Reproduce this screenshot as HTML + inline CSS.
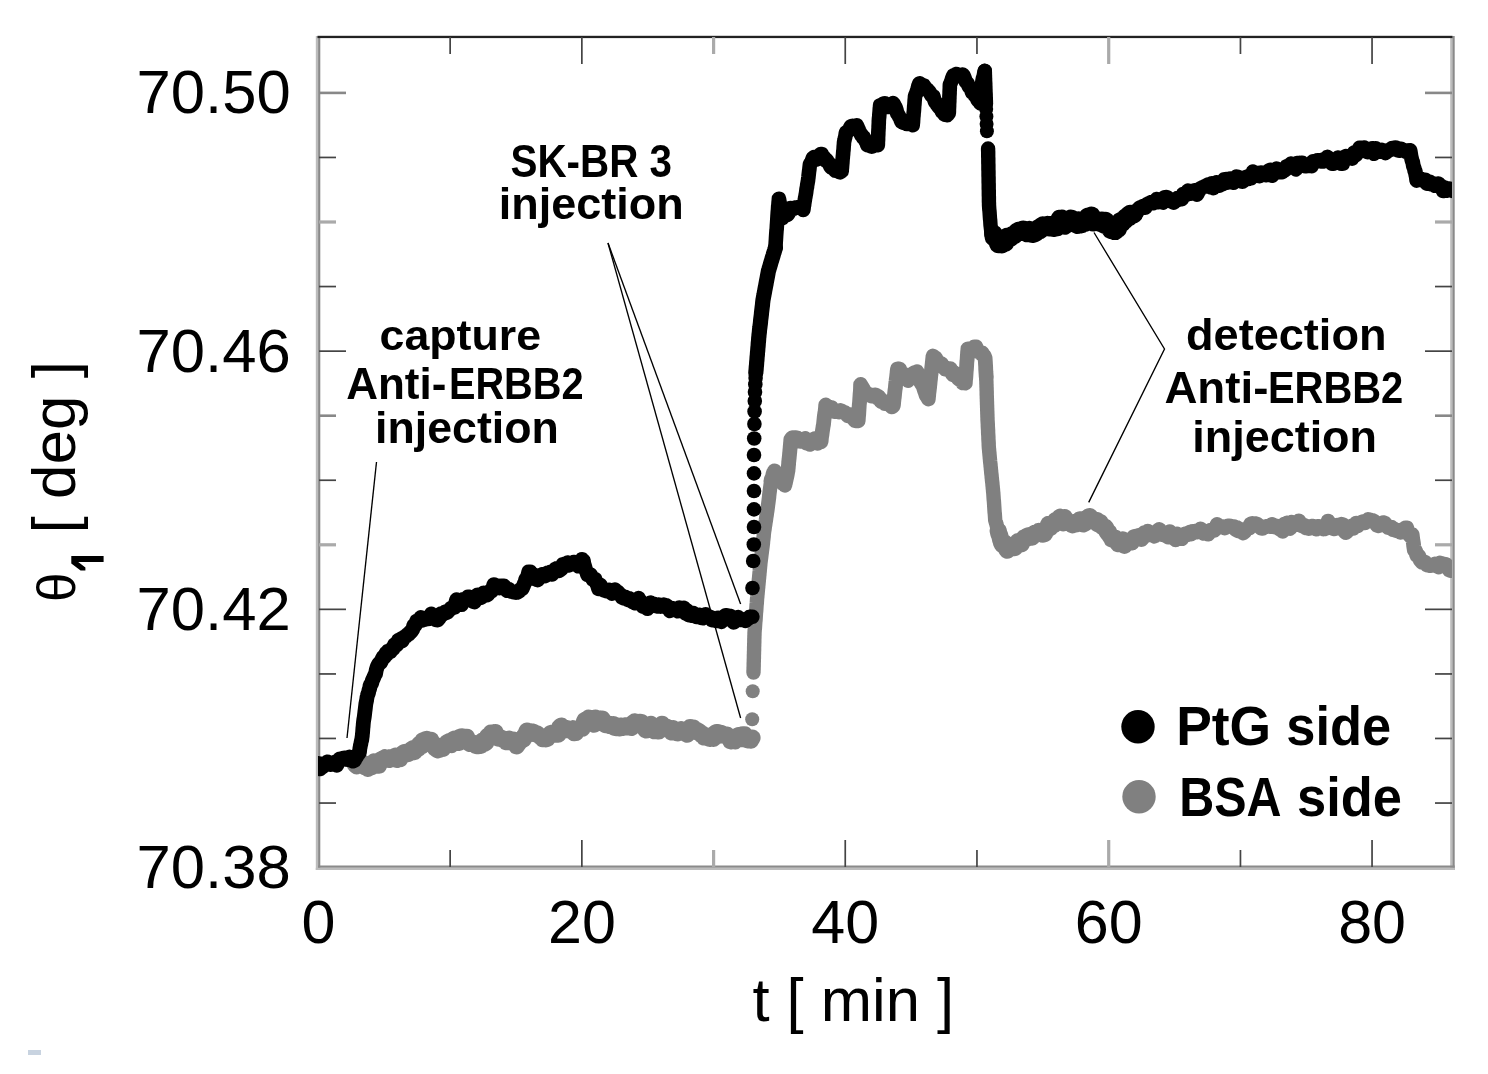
<!DOCTYPE html>
<html><head><meta charset="utf-8"><title>SPR sensorgram</title>
<style>
html,body{margin:0;padding:0;background:#fff;}
body{width:1488px;height:1074px;overflow:hidden;}
svg{display:block;filter:blur(0.5px);}
text{font-family:"Liberation Sans",sans-serif;fill:#000;}
.b{font-weight:bold;}
</style></head><body>
<svg width="1488" height="1074" viewBox="0 0 1488 1074">
<rect x="0" y="0" width="1488" height="1074" fill="#ffffff"/>

<rect x="28" y="1050" width="13" height="5" fill="#c8d3e0"/>
<g id="frame">
<rect x="315.8" y="36" width="2.3" height="834" fill="#bcbcbc"/>
<rect x="318.1" y="36" width="2.2" height="832" fill="#8a8a8a"/>
<rect x="1450.2" y="36" width="2.2" height="832" fill="#bcbcbc"/>
<rect x="1452.4" y="36" width="2.3" height="834" fill="#8a8a8a"/>
<rect x="318.1" y="865.5" width="1136.6" height="2.3" fill="#8a8a8a"/>
<rect x="315.8" y="867.8" width="1138.9" height="2.2" fill="#bcbcbc"/>
<rect x="317.5" y="35.8" width="1135" height="2.3" fill="#222"/>
</g>
<g id="ticks">
<rect x="319" y="802.2" width="17" height="1.7" fill="#444"/>
<rect x="1435.0" y="802.2" width="17" height="1.7" fill="#444"/>
<rect x="319" y="737.6" width="17" height="1.7" fill="#444"/>
<rect x="1435.0" y="737.6" width="17" height="1.7" fill="#444"/>
<rect x="319" y="673.1" width="17" height="1.7" fill="#444"/>
<rect x="1435.0" y="673.1" width="17" height="1.7" fill="#444"/>
<rect x="319" y="608.5" width="27" height="1.7" fill="#444"/>
<rect x="1425.0" y="608.5" width="27" height="1.7" fill="#444"/>
<rect x="319" y="543.2" width="17" height="3.2" fill="#aaa"/>
<rect x="1435.0" y="543.2" width="17" height="3.2" fill="#aaa"/>
<rect x="319" y="479.4" width="17" height="1.7" fill="#444"/>
<rect x="1435.0" y="479.4" width="17" height="1.7" fill="#444"/>
<rect x="319" y="414.4" width="17" height="2.6" fill="#888"/>
<rect x="1435.0" y="414.4" width="17" height="2.6" fill="#888"/>
<rect x="319" y="350.3" width="27" height="1.7" fill="#444"/>
<rect x="1425.0" y="350.3" width="27" height="1.7" fill="#444"/>
<rect x="319" y="285.7" width="17" height="1.7" fill="#444"/>
<rect x="1435.0" y="285.7" width="17" height="1.7" fill="#444"/>
<rect x="319" y="220.4" width="17" height="3.2" fill="#aaa"/>
<rect x="1435.0" y="220.4" width="17" height="3.2" fill="#aaa"/>
<rect x="319" y="156.6" width="17" height="1.7" fill="#444"/>
<rect x="1435.0" y="156.6" width="17" height="1.7" fill="#444"/>
<rect x="319" y="91.6" width="27" height="2.6" fill="#888"/>
<rect x="1425.0" y="91.6" width="27" height="2.6" fill="#888"/>
<rect x="449.3" y="850.0" width="1.7" height="17" fill="#444"/>
<rect x="449.3" y="37.0" width="1.7" height="17" fill="#444"/>
<rect x="581.0" y="840.0" width="1.7" height="27" fill="#444"/>
<rect x="581.0" y="37.0" width="1.7" height="27" fill="#444"/>
<rect x="712.0" y="850.0" width="3.2" height="17" fill="#aaa"/>
<rect x="712.0" y="37.0" width="3.2" height="17" fill="#aaa"/>
<rect x="844.4" y="840.0" width="1.7" height="27" fill="#444"/>
<rect x="844.4" y="37.0" width="1.7" height="27" fill="#444"/>
<rect x="976.1" y="850.0" width="1.7" height="17" fill="#444"/>
<rect x="976.1" y="37.0" width="1.7" height="17" fill="#444"/>
<rect x="1107.1" y="840.0" width="3.2" height="27" fill="#aaa"/>
<rect x="1107.1" y="37.0" width="3.2" height="27" fill="#aaa"/>
<rect x="1239.6" y="850.0" width="1.7" height="17" fill="#444"/>
<rect x="1239.6" y="37.0" width="1.7" height="17" fill="#444"/>
<rect x="1371.2" y="840.0" width="1.7" height="27" fill="#444"/>
<rect x="1371.2" y="37.0" width="1.7" height="27" fill="#444"/>
</g>
<clipPath id="cp"><rect x="318" y="37" width="1134.1" height="830"/></clipPath>
<g id="callouts" stroke="#000" stroke-width="1.35" fill="none">
<line x1="376.5" y1="462" x2="347" y2="738"/>
<line x1="608" y1="243" x2="740.6" y2="718"/>
<line x1="608" y1="243" x2="740.6" y2="604"/>
<polyline points="1094,232.5 1164.5,349 1088.7,502.4"/>
</g>
<g id="grey" clip-path="url(#cp)">
<polyline points="355.0,764.4 356.7,765.9 358.3,765.0 360.0,764.4 361.7,762.6 363.3,763.3 365.0,766.8 366.5,767.0 368.0,768.5 369.5,767.4 371.0,767.1 372.5,766.4 374.0,761.7 375.6,764.6 377.2,765.2 378.8,765.3 380.4,760.2 382.0,759.2 383.4,758.5 384.8,757.7 386.2,759.1 387.6,758.9 389.0,759.7 390.6,757.4 392.1,758.0 393.7,758.3 395.3,755.9 396.8,759.6 398.4,758.8 400.0,758.8 401.5,755.7 403.1,753.0 404.6,752.3 406.0,752.2 407.4,753.7 408.9,753.4 410.4,751.5 411.8,749.1 413.2,748.5 414.7,751.7 415.9,748.7 417.0,748.5 418.2,748.3 419.4,744.2 420.5,744.3 421.7,746.1 422.9,740.7 424.0,740.3 425.2,739.7 426.7,739.2 428.1,742.1 429.6,742.7 431.0,740.2 432.5,744.2 433.9,746.2 435.4,748.3 436.9,749.5 438.3,750.0 439.8,749.3 441.2,746.0 442.7,748.7 444.2,746.5 445.7,745.3 447.1,742.6 448.6,741.9 450.1,741.2 451.6,744.7 453.1,739.7 454.6,738.9 456.0,739.2 457.5,742.6 459.0,742.5 460.5,737.1 462.1,736.6 463.6,737.2 465.2,737.2 466.7,737.1 468.3,740.8 469.8,743.7 471.4,743.1 472.9,743.1 474.5,743.6 476.0,745.6 477.6,745.8 479.1,745.6 480.7,745.5 482.2,740.9 483.5,743.2 484.8,743.4 486.1,742.3 487.4,736.4 488.6,735.4 489.9,737.3 491.2,733.0 492.5,733.0 493.8,735.2 495.4,732.4 496.9,737.6 498.5,738.3 500.0,737.4 501.6,738.2 503.1,739.6 504.7,739.4 506.2,741.9 507.8,739.4 509.2,738.9 510.7,742.1 512.1,741.8 513.6,740.0 515.0,743.2 516.5,746.0 517.9,744.2 519.4,742.1 520.4,741.2 521.3,740.1 522.3,738.6 523.2,739.6 524.2,736.1 525.1,736.8 526.1,733.0 527.0,730.9 528.0,731.2 528.9,731.5 529.9,731.5 531.3,731.7 532.7,731.9 534.2,732.4 535.6,733.9 537.0,733.6 538.4,734.8 539.9,736.5 541.3,736.6 542.7,738.8 544.2,738.5 545.8,739.0 547.4,738.5 548.9,735.5 550.5,733.6 552.0,733.0 553.5,734.6 555.1,732.3 556.6,732.5 558.2,734.4 559.8,727.1 561.3,725.9 562.9,727.7 564.5,729.4 566.1,729.9 567.8,728.6 569.4,730.4 571.0,730.4 572.6,728.5 574.2,732.8 575.8,732.7 577.5,729.6 579.1,728.9 580.7,728.2 582.3,728.4 582.8,725.6 583.3,724.1 583.8,723.9 584.3,721.4 584.8,720.4 585.3,720.0 585.8,720.5 587.2,722.1 588.5,718.0 589.9,718.3 591.3,718.8 592.6,721.4 594.0,724.4 595.6,717.9 597.2,721.8 598.8,718.6 600.5,722.0 602.1,718.8 603.7,721.0 605.3,724.7 606.9,723.7 608.5,724.0 610.2,725.7 611.8,725.1 613.4,724.4 615.0,727.7 616.6,727.8 618.3,726.0 619.9,728.1 621.5,725.9 623.2,727.5 624.8,725.7 626.4,725.7 628.1,727.1 629.7,726.8 631.4,727.7 633.0,723.1 634.6,721.7 636.3,724.5 637.9,722.9 639.5,722.1 641.2,722.3 642.8,726.1 644.4,728.0 646.0,730.2 647.6,726.8 649.2,726.8 650.8,724.2 652.4,727.3 654.0,730.8 655.6,727.2 657.2,731.0 658.7,731.2 660.3,729.5 661.9,724.1 663.5,729.1 665.1,728.4 666.7,726.9 668.3,728.5 669.9,729.4 671.5,732.2 673.1,728.4 674.7,731.3 676.2,732.7 677.8,733.0 679.3,732.4 680.9,729.5 682.4,732.2 684.0,731.7 685.5,731.5 687.1,734.4 688.6,732.4 690.2,727.3 691.7,727.9 693.3,727.8 694.8,730.3 696.4,731.9 697.9,730.8 699.5,731.8 701.0,734.4 702.6,734.2 704.1,737.2 705.7,735.7 707.2,737.6 708.8,738.2 710.3,738.5 711.9,737.2 713.4,738.6 715.0,733.1 716.5,732.3 718.1,732.6 719.6,735.4 721.2,733.1 722.7,734.8 724.3,735.3 725.8,736.0 727.4,735.1 728.9,736.6 730.5,741.0 732.0,739.5 733.6,739.8 735.1,741.1 736.7,739.1 738.2,735.5 739.8,735.2 741.3,738.9 742.9,734.6 744.5,734.6 746.0,738.4 747.5,740.0 749.1,739.0 750.7,740.4 752.2,737.8" fill="none" stroke="#808080" stroke-width="16.8" stroke-linecap="round" stroke-linejoin="round"/>
<circle cx="752.2" cy="719.2" r="7" fill="#808080"/><circle cx="752.7" cy="691.3" r="7" fill="#808080"/>
<polyline points="753.5,672.6 753.5,671.0 753.6,669.4 753.6,667.8 753.7,666.3 753.7,664.7 753.7,663.1 753.8,661.5 753.8,659.9 753.9,658.3 753.9,656.7 753.9,655.2 754.0,653.6 754.0,652.0 754.1,650.4 754.1,648.8 754.1,647.2 754.2,645.7 754.2,644.0 754.3,642.5 754.3,640.9 754.3,639.3 754.4,637.8 754.4,636.2 754.5,634.6 754.5,633.0 754.6,631.5 754.7,629.9 754.9,628.3 755.0,626.7 755.1,625.1 755.2,623.6 755.3,622.0 755.5,620.4 755.6,618.9 755.7,617.3 755.8,615.7 755.9,614.2 756.0,612.6 756.2,611.0 756.3,609.5 756.4,607.9 756.5,606.3 756.6,604.8 756.8,603.1 756.9,601.6 757.0,600.0 757.1,598.4 757.3,596.8 757.4,595.2 757.6,593.6 757.7,592.0 757.9,590.4 758.0,588.8 758.2,587.2 758.3,585.6 758.5,584.1 758.6,582.5 758.8,580.9 758.9,579.2 759.1,577.7 759.2,576.1 759.4,574.5 759.5,572.9 759.7,571.3 759.8,569.7 760.0,568.0 760.1,566.5 760.3,564.9 760.4,563.3 760.6,561.8 760.8,560.2 761.0,558.6 761.2,557.0 761.4,555.4 761.6,553.9 761.8,552.3 762.0,550.6 762.2,549.2 762.4,547.6 762.6,546.0 762.8,544.3 763.0,542.8 763.1,541.1 763.3,539.5 763.5,537.8 763.7,536.1 763.8,534.4 764.0,532.6 764.2,531.1 764.5,529.5 764.7,528.0 764.9,526.4 765.2,524.9 765.4,523.4 765.6,521.9 765.9,520.3 766.1,518.8 766.3,517.2 766.6,515.7 766.8,514.1 767.0,512.5 767.3,510.9 767.5,509.4 767.7,507.8 767.9,506.3 768.1,504.7 768.3,503.2 768.5,501.6 768.7,500.0 768.9,498.5 769.1,497.0 769.2,495.5 769.4,493.9 769.6,492.4 769.8,490.8 770.0,489.2 770.2,487.6 770.4,486.1 770.6,484.6 770.8,483.0 771.0,481.5" fill="none" stroke="#808080" stroke-width="14.4" stroke-linecap="round" stroke-linejoin="round"/>
<polyline points="771.0,480.4 771.5,478.9 772.0,478.5 772.5,476.6 773.0,474.2 773.5,472.6 774.0,471.8 774.5,470.8 775.4,472.2 776.4,475.0 777.3,476.3 778.3,476.8 779.2,478.3 780.2,480.3 781.1,481.6 782.1,482.9 783.0,482.5 784.0,483.6 784.9,485.3 785.2,483.5 785.5,482.6 785.8,481.1 786.1,479.8 786.5,477.8 786.8,476.8 787.1,475.3 787.4,473.7 787.7,471.9 788.0,470.5 788.1,468.9 788.3,467.4 788.4,465.8 788.6,464.1 788.7,462.1 788.9,460.6 789.0,459.2 789.2,458.0 789.3,456.5 789.5,454.7 789.6,453.3 789.8,451.8 789.9,450.1 790.1,448.4 790.2,446.7 790.4,445.4 790.5,443.4 790.7,441.7 790.8,439.5 792.4,437.6 794.0,438.0 795.6,437.7 797.2,437.8 798.7,439.7 800.3,441.4 801.9,441.2 803.5,440.8 805.1,438.4 806.7,443.1 808.3,443.3 809.9,444.4 811.5,441.6 813.1,441.3 814.6,438.7 816.2,441.3 817.8,443.3 819.4,439.2 821.0,441.7 821.2,440.5 821.4,438.2 821.6,436.6 821.9,435.0 822.1,433.4 822.3,431.8 822.5,430.4 822.7,429.1 822.9,427.8 823.1,426.4 823.4,425.1 823.6,423.5 823.8,421.3 824.0,419.5 824.2,417.6 824.4,415.9 824.6,414.5 824.8,413.1 825.1,411.8 825.3,409.6 825.5,408.0 825.7,405.0 827.2,406.2 828.7,406.9 830.1,408.1 831.6,407.8 833.1,410.4 834.6,411.6 836.0,411.7 837.5,411.1 839.0,411.9 840.5,410.6 842.0,411.2 843.4,412.2 844.9,412.5 846.4,414.1 847.9,415.8 849.3,414.4 850.8,415.9 852.3,416.8 853.8,419.0 855.2,420.7 856.7,420.9 858.2,420.8 858.3,419.2 858.4,417.7 858.5,416.3 858.7,414.7 858.8,412.8 858.9,410.9 859.0,409.3 859.1,407.7 859.2,406.0 859.3,404.5 859.5,402.9 859.6,401.4 859.7,400.0 859.8,398.3 859.9,397.1 860.0,395.3 860.1,393.9 860.3,392.1 860.4,390.7 860.5,388.2 860.6,384.5 862.0,386.8 863.3,389.0 864.7,392.0 866.0,392.8 867.4,393.6 868.8,394.4 870.1,395.2 871.5,396.0 872.8,395.3 874.2,396.4 875.5,394.8 876.9,397.9 878.3,396.4 879.6,398.0 881.0,401.5 882.3,401.2 883.7,401.3 885.1,403.6 886.4,403.4 887.8,402.3 889.1,403.7 890.5,405.4 891.8,406.9 893.2,405.9 893.4,405.0 893.6,403.4 893.7,401.8 893.9,400.1 894.1,398.2 894.3,397.1 894.5,395.1 894.6,393.8 894.8,391.9 895.0,390.1 895.2,388.9 895.4,387.8 895.5,386.0 895.7,384.0 895.9,382.8 896.1,381.1 896.2,379.6 896.4,378.4 896.6,376.9 896.8,375.0 897.0,373.7 897.1,372.1 897.3,370.6 897.5,368.8 898.5,369.8 899.6,369.0 900.6,373.3 901.7,375.5 902.8,374.5 903.8,374.0 904.9,375.2 905.9,378.2 907.0,379.0 908.0,380.5 909.1,379.1 910.2,378.1 911.4,375.7 912.5,375.3 913.6,372.9 914.8,372.5 915.9,372.3 917.0,371.7 917.6,373.0 918.1,373.8 918.7,375.7 919.2,377.0 919.8,379.9 920.3,381.6 920.9,382.5 921.4,383.4 922.0,384.3 922.7,385.3 923.4,387.0 924.1,389.2 924.8,391.3 925.5,393.2 926.2,395.4 926.9,396.1 927.6,397.3 928.3,399.0 928.5,396.8 928.7,395.1 928.8,393.6 929.0,392.1 929.2,390.6 929.4,388.8 929.6,387.3 929.7,385.7 929.9,384.3 930.1,381.9 930.3,380.2 930.5,378.8 930.6,377.0 930.8,375.3 931.0,374.1 931.2,372.4 931.4,371.1 931.6,369.7 931.7,368.1 931.9,366.5 932.1,364.7 932.3,362.6 932.5,361.1 932.6,359.8 932.8,358.0 933.0,356.0 934.2,358.3 935.5,357.7 936.7,360.1 938.0,363.0 939.2,362.5 940.5,363.4 941.7,363.9 942.9,367.1 944.2,367.6 945.4,369.2 946.7,368.2 947.9,369.1 949.1,370.0 950.4,368.7 951.6,372.8 952.9,374.8 954.1,372.5 955.4,375.4 956.6,376.1 957.8,377.9 959.1,379.2 960.3,377.6 961.6,379.1 962.8,382.9 964.1,382.4 965.3,383.2 965.4,381.5 965.5,379.9 965.7,378.6 965.8,377.6 965.9,376.0 966.0,374.3 966.1,373.0 966.2,371.2 966.4,369.4 966.5,368.0 966.6,366.5 966.7,364.6 966.8,362.7 966.9,361.4 967.1,360.0 967.2,358.1 967.3,356.6 967.4,355.0 967.5,353.7 967.6,352.1 967.8,350.6 967.9,348.9 968.0,349.0 969.6,350.4 971.2,348.5 972.8,349.4 974.4,346.9 976.0,347.0 977.0,349.2 978.0,351.5 979.0,351.6 980.0,352.3 981.1,353.7 982.1,352.9 983.1,354.9 984.1,355.7 985.1,358.1 985.2,359.4 985.3,360.9 985.4,362.5 985.5,364.3 985.6,365.7 985.7,367.6 985.7,369.0 985.8,370.4 985.9,372.2 986.0,373.3 986.1,374.9 986.2,376.8" fill="none" stroke="#808080" stroke-width="14.8" stroke-linecap="round" stroke-linejoin="round"/>
<polyline points="986.2,376.8 986.2,378.5 986.3,380.1 986.4,381.7 986.4,383.3 986.5,385.0 986.5,386.6 986.6,388.2 986.6,389.9 986.7,391.5 986.7,393.1 986.7,394.7 986.8,396.2 986.8,397.7 986.9,399.3 986.9,400.8 987.0,402.4 987.0,404.0 987.1,405.6 987.1,407.1 987.2,408.7 987.2,410.2 987.3,411.8 987.3,413.3 987.4,414.8 987.4,416.4 987.5,417.9 987.5,419.5 987.6,421.1 987.7,422.7 987.8,424.4 987.8,425.9 987.9,427.5 988.0,429.1 988.1,430.6 988.1,432.2 988.2,433.8 988.3,435.4 988.4,437.0 988.4,438.6 988.5,440.2 988.6,441.8 988.7,443.3 988.7,444.9 988.8,446.5 988.9,448.1 989.1,449.8 989.2,451.5 989.4,453.0 989.5,454.7 989.7,456.4 989.8,457.9 990.0,459.7 990.1,461.3 990.3,463.0 990.5,464.5 990.6,466.1 990.8,467.6 990.9,469.2 991.1,470.8 991.2,472.4 991.4,474.0 991.6,475.6 991.7,477.2 991.9,478.7 992.0,480.3 992.2,481.8 992.4,483.4 992.5,485.1 992.7,486.7 992.8,488.3 993.0,489.8 993.1,491.5 993.3,493.0 993.4,494.6 993.5,496.2 993.6,497.8 993.7,499.4 993.9,501.0 994.0,502.5 994.1,504.1 994.2,505.7 994.3,507.3 994.4,508.9 994.5,510.5 994.6,512.1 994.8,513.7 994.9,515.2 995.0,516.8 995.1,518.4 995.2,520.0 995.6,521.6 996.1,523.0 996.5,524.7 996.9,526.2 997.3,527.7 997.8,529.3 998.2,531.0" fill="none" stroke="#808080" stroke-width="14.4" stroke-linecap="round" stroke-linejoin="round"/>
<polyline points="998.2,530.7 998.7,533.0 999.1,534.2 999.6,535.1 1000.1,537.1 1000.6,539.5 1001.0,540.5 1001.5,542.6 1002.6,544.9 1003.8,545.3 1004.9,543.2 1006.1,548.2 1007.2,550.2 1008.8,545.8 1010.3,545.5 1011.9,546.1 1013.4,547.6 1015.0,547.4 1016.5,544.9 1018.1,541.5 1019.6,541.9 1021.2,544.0 1022.8,540.1 1024.3,537.9 1025.8,538.6 1027.4,536.1 1029.0,535.6 1030.5,535.8 1031.9,537.1 1033.3,535.1 1034.7,533.3 1036.1,532.9 1037.5,533.0 1038.9,531.4 1040.3,531.6 1041.7,532.9 1043.1,534.1 1044.5,533.5 1045.9,530.5 1047.3,528.2 1048.7,524.3 1050.1,527.6 1051.5,524.8 1052.8,524.2 1054.2,524.5 1055.6,520.6 1057.0,521.6 1058.4,520.7 1060.0,517.2 1061.5,519.2 1063.1,522.8 1064.6,517.6 1066.2,521.0 1067.7,521.5 1069.2,522.4 1070.8,522.8 1072.3,524.8 1073.9,522.7 1075.5,524.0 1077.0,521.7 1078.6,522.9 1080.1,519.9 1081.7,519.8 1083.2,523.9 1084.8,523.1 1086.3,521.2 1087.9,517.7 1089.5,516.5 1091.0,518.1 1092.6,520.6 1094.1,520.7 1095.7,520.4 1096.9,520.7 1098.0,523.8 1099.2,523.0 1100.3,522.9 1101.5,525.8 1102.7,526.5 1103.8,526.8 1105.0,527.2 1105.9,528.5 1106.8,531.0 1107.6,532.7 1108.5,532.0 1109.4,534.4 1110.2,536.1 1111.1,535.9 1112.0,539.1 1113.5,538.6 1115.1,538.3 1116.6,541.0 1118.2,543.7 1119.7,540.9 1121.3,542.1 1122.8,539.9 1124.4,545.3 1125.9,542.0" fill="none" stroke="#808080" stroke-width="17.2" stroke-linecap="round" stroke-linejoin="round"/>
<polyline points="1125.9,541.0 1127.5,543.4 1129.0,540.5 1130.6,541.8 1132.1,543.1 1133.7,536.8 1135.2,536.3 1136.8,537.8 1138.3,537.1 1139.8,535.2 1141.4,539.6 1143.0,537.8 1144.5,532.6 1146.1,535.4 1147.8,531.1 1149.4,534.9 1151.0,533.1 1152.7,533.7 1154.3,536.3 1155.9,535.1 1157.5,531.0 1159.2,529.4 1160.8,532.6 1162.3,534.7 1163.8,532.6 1165.2,535.3 1166.7,536.2 1168.2,537.2 1169.7,531.7 1171.2,533.0 1172.7,536.6 1174.1,538.3 1175.6,539.8 1177.1,534.0 1178.7,535.1 1180.2,536.2 1181.8,538.7 1183.3,535.7 1184.9,533.9 1186.4,533.4 1188.0,534.6 1189.5,532.2 1191.1,534.1 1192.7,531.3 1194.2,532.2 1195.8,531.0 1197.3,531.9 1198.9,530.6 1200.5,528.8 1202.0,532.5 1203.6,533.3 1205.1,531.9 1206.7,532.9 1208.2,534.1 1209.7,530.5 1211.2,530.0 1212.7,530.6 1214.1,530.6 1215.6,528.6 1217.1,524.4 1218.6,527.1 1220.1,527.0 1221.6,527.1 1223.2,526.7 1224.7,527.9 1226.3,527.2 1227.8,525.8 1229.4,525.8 1230.9,526.3 1232.5,526.7 1234.0,526.6 1235.6,529.6 1237.1,527.6 1238.7,531.0 1240.2,529.5 1241.7,530.6 1243.2,533.0 1244.7,531.7 1246.2,528.7 1247.7,528.4 1249.2,528.1 1250.6,523.9 1252.1,523.4 1253.6,524.6 1255.1,523.6 1256.6,523.9 1258.1,525.1 1259.6,526.7 1261.2,528.1 1262.7,528.3 1264.3,526.8 1265.8,526.7 1267.4,526.3 1268.9,526.2 1270.5,526.6 1272.0,524.4 1273.6,525.3 1275.1,527.0 1276.7,526.1 1278.2,527.9 1279.7,529.2 1281.2,528.2 1282.7,531.3 1284.2,524.2 1285.7,524.6 1287.2,522.9 1288.6,525.0 1290.1,528.5 1291.6,522.2 1293.1,523.0 1294.6,524.0 1296.1,522.6 1297.5,524.5 1298.9,520.8 1300.4,524.2 1301.8,525.8 1303.2,526.3 1304.6,525.5 1306.0,527.9 1307.4,527.2 1308.9,528.5 1310.3,528.0 1311.7,526.2 1313.2,526.1 1314.7,527.4 1316.2,529.1 1317.7,526.4 1319.2,526.4 1320.7,527.7 1322.1,527.1 1323.6,529.0 1325.1,528.8 1326.6,526.3 1328.1,521.1 1329.6,524.0 1331.1,527.7 1332.6,528.4 1334.1,528.8 1335.6,526.6 1337.1,525.2 1338.5,528.1 1340.0,526.0 1341.5,524.3 1343.0,524.8 1344.5,531.4 1346.0,532.6 1347.5,531.1 1349.0,528.2 1350.4,528.2 1351.8,525.8 1353.3,528.3 1354.8,526.5 1356.2,523.2 1357.7,525.8 1359.1,523.1 1360.5,522.9 1362.0,522.0 1363.5,521.5 1365.0,522.8 1366.5,521.4 1368.1,519.5 1369.6,519.8 1371.1,520.2 1372.6,520.5 1374.1,521.3 1375.6,523.1 1377.1,525.3 1378.7,525.7 1380.2,524.1 1381.7,523.5 1383.2,522.6 1384.8,522.9 1386.4,525.7 1388.0,527.6 1389.6,527.3 1391.2,527.1 1392.8,529.5 1394.3,529.0 1395.9,530.4 1397.5,530.9 1399.1,530.5 1400.7,532.4 1402.3,530.0 1403.9,529.0 1405.5,527.9 1406.8,528.0 1408.2,533.0 1409.5,535.3 1410.9,535.5 1412.2,534.6 1412.4,536.3 1412.6,538.0 1412.8,539.6 1413.0,540.5 1413.2,541.8 1413.5,543.8 1413.7,546.0 1413.9,547.4 1414.1,548.5 1414.3,550.0 1414.5,550.3 1415.6,550.8 1416.7,555.3 1417.8,554.9 1419.0,556.2 1420.1,560.1 1421.2,561.3 1422.3,562.4 1423.4,561.5 1425.1,562.4 1426.8,565.0 1428.4,565.3 1430.1,565.6 1431.8,565.1 1433.5,565.3 1435.1,563.9 1436.8,564.6 1438.4,567.0 1439.9,562.9 1441.5,563.7 1443.1,565.0 1444.7,564.2 1446.2,564.5 1447.8,567.2 1449.4,570.2 1450.9,570.6 1452.5,567.6" fill="none" stroke="#808080" stroke-width="14.8" stroke-linecap="round" stroke-linejoin="round"/>
</g>
<g id="black" clip-path="url(#cp)">
<polyline points="317.0,767.5 318.5,763.5 320.0,768.8 321.5,767.5 323.0,766.5 324.5,763.4 326.0,763.9 327.5,761.8 329.0,763.0 330.5,764.5 332.0,764.2 333.6,764.4 335.1,761.9 336.7,765.3 338.2,762.5 339.8,758.8 341.3,759.4 342.9,758.5 344.4,757.8 346.0,758.1 347.7,759.6 349.4,757.0 351.1,757.7 352.8,761.2 354.5,760.5 355.5,758.3 356.4,756.9 357.4,755.2 358.3,753.8 359.3,752.9 359.6,751.0 359.9,748.3 360.2,746.9 360.5,745.0 360.8,744.1 361.1,742.2 361.4,740.8 361.7,740.2 362.0,737.7 362.3,735.6 362.4,733.9 362.6,732.4 362.7,730.9 362.8,729.4 362.9,727.9 363.1,726.4 363.2,724.9 363.3,723.6 363.5,721.8 363.7,720.3 363.9,719.0 364.1,718.0 364.3,716.6 364.5,715.0 364.7,713.3 364.9,711.4 365.1,710.1 365.3,708.5 365.5,706.7 365.7,705.0 365.9,703.5 366.3,701.7 366.7,699.7 367.0,697.3 367.4,695.8 367.8,694.1 368.2,693.6 368.6,692.4 369.0,689.9 369.4,689.5 369.7,688.3 370.1,685.1 370.5,685.5 371.1,684.3 371.8,682.9 372.4,680.2 373.0,679.1 373.7,677.7 374.3,676.1 375.0,674.5 375.6,673.8 376.2,670.2 376.9,667.9 377.5,666.1 378.3,664.7 379.1,663.4 379.8,663.3 380.6,662.5 381.4,661.2 382.1,659.1 382.9,657.5 383.7,657.7 384.5,657.0 385.2,655.2 386.0,653.1 386.8,654.5 388.1,651.2 389.4,651.1 390.7,651.4 392.0,648.7 393.2,648.6 394.5,644.7 395.8,645.8 397.1,644.5 398.4,640.2 399.7,641.3 401.0,638.7 402.3,640.7 403.6,637.8 404.8,636.6 406.1,636.3 407.4,634.6 408.7,634.2 410.0,632.3 410.9,632.1 411.9,630.5 412.8,629.3 413.8,625.3 414.7,625.7 415.6,624.5 416.6,621.1 417.5,620.7 418.5,620.4 419.4,621.2 420.8,617.4 422.2,620.3 423.6,618.1 425.0,619.6 426.4,618.6 428.0,618.9 429.7,616.8 431.3,614.0 432.9,617.4 434.5,619.0 436.2,619.9 437.8,620.0 439.4,617.8 441.1,613.7 442.7,614.5 443.9,613.3 445.0,611.9 446.2,612.8 447.3,612.4 448.5,610.7 449.6,609.9 450.8,608.5 452.0,607.7 453.1,607.7 454.3,607.4 455.4,604.1 456.6,599.6 458.2,603.8 459.9,603.1 461.5,604.7 463.1,599.4 464.8,599.3 466.4,599.8 468.0,596.8 469.6,596.9 471.3,599.5 472.9,601.5 474.5,602.0 476.0,598.7 477.6,594.8 479.1,596.4 480.7,597.9 482.2,596.8 483.8,592.8 485.3,594.7 486.9,595.1 488.1,594.3 489.2,591.7 490.4,591.1 491.5,591.2 492.7,588.4 493.9,584.6 495.0,585.2 496.2,585.6 497.7,585.8 499.3,588.0 500.8,586.0 502.4,586.1 503.9,585.9 505.5,587.7 507.0,590.7 508.6,589.1 510.1,591.2 511.6,591.6 513.1,591.9 514.6,592.2 516.1,592.5 517.6,592.3 519.1,591.1 520.6,589.2 521.3,588.7 522.1,588.9 522.8,587.4 523.5,585.8 524.3,583.6 525.0,582.2 525.8,579.0 526.5,579.5 527.2,577.4 528.0,574.9 528.7,571.9 530.2,571.9 531.6,575.7 533.1,578.5 534.5,575.0 536.0,578.1 537.5,580.0 538.9,578.1 540.4,575.3 541.9,574.6 543.3,574.3 544.8,576.1 546.2,575.3 547.6,572.8 549.1,573.5 550.5,571.9 552.0,574.4 553.2,571.6 554.3,570.4 555.5,569.1 556.6,568.4 557.8,570.7 559.0,570.8 560.1,569.9 561.3,569.0 562.9,564.4 564.4,564.1 566.0,563.9 567.5,562.7 569.1,565.3 570.6,563.9 572.2,563.1 573.7,562.1 575.3,562.3 576.6,562.8 578.0,566.0 579.3,565.1 580.7,561.9 582.0,559.4 583.4,560.8 583.9,563.9 584.4,565.4 585.0,567.4 585.5,569.2 586.0,570.6 586.5,571.4 587.1,573.4 587.6,574.9 588.1,573.8 589.3,574.8 590.4,574.6 591.6,576.6 592.8,579.5 593.9,579.0 595.1,579.3 596.3,582.8 597.4,584.7 598.6,588.9 600.2,584.8 601.7,587.9 603.3,589.9 604.8,590.4 606.2,591.0 607.6,590.7 609.1,589.9 610.5,592.1 612.0,593.4 613.4,592.8 614.9,589.6 616.4,592.4 617.8,591.8 619.2,593.9 620.7,594.6 622.1,597.5 623.6,598.1 625.0,596.9 626.5,597.5 628.0,599.9 629.5,598.6 631.0,599.5 632.5,601.9 634.0,602.5 635.5,603.2 637.0,599.8 638.5,598.2 640.0,600.7 641.5,602.7 643.0,606.5 644.5,605.0 646.0,607.5 647.5,608.7 649.1,603.5 650.7,602.7 652.3,604.5 653.9,604.0 655.5,604.6 657.1,606.4 658.7,604.6 660.3,606.5 661.9,605.2 663.5,604.7 665.1,606.9 666.7,605.7 668.3,607.0 669.9,610.8 671.5,609.4 673.1,608.3 674.7,609.9 676.2,608.6 677.8,611.2 679.3,607.6 680.9,610.0 682.4,609.0 684.0,608.0 685.5,613.2 687.1,610.6 688.6,614.9 690.2,615.2 691.7,615.6 693.3,613.2 694.8,615.9 696.4,616.8 697.9,616.0 699.5,615.0 701.0,617.8 702.6,618.1 704.1,616.0 705.7,614.4 707.2,616.0 708.8,616.8 710.3,617.1 711.9,620.0 713.4,618.4 715.0,619.0 716.5,620.9 718.1,617.8 719.6,620.4 721.2,621.8 722.7,618.4 724.3,616.2 725.8,615.4 727.4,615.6 728.9,617.1 730.5,616.1 732.0,618.0 733.6,622.3 735.1,618.0 736.7,618.6 738.2,617.2 739.8,619.8 741.3,619.0 742.9,619.8 744.2,620.0 745.6,620.8 746.9,619.1 748.2,618.7 749.5,617.0 750.9,617.0 752.2,616.8" fill="none" stroke="#000" stroke-width="14.8" stroke-linecap="round" stroke-linejoin="round"/>
<circle cx="752.5" cy="588.0" r="7.3" fill="#000"/><circle cx="753.2" cy="561.0" r="7.3" fill="#000"/><circle cx="753.8" cy="544.5" r="7.3" fill="#000"/><circle cx="754.0" cy="527.0" r="7.3" fill="#000"/><circle cx="754.0" cy="509.4" r="7.3" fill="#000"/><circle cx="754.0" cy="491.0" r="7.3" fill="#000"/><circle cx="754.0" cy="473.4" r="7.3" fill="#000"/><circle cx="754.0" cy="455.0" r="7.3" fill="#000"/><circle cx="754.2" cy="438.5" r="7.3" fill="#000"/><circle cx="754.4" cy="424.0" r="7.3" fill="#000"/><circle cx="754.6" cy="411.5" r="7.3" fill="#000"/><circle cx="754.8" cy="401.0" r="7.3" fill="#000"/><circle cx="755.0" cy="392.0" r="7.3" fill="#000"/><circle cx="755.3" cy="384.5" r="7.3" fill="#000"/><circle cx="755.6" cy="378.0" r="7.3" fill="#000"/>
<polyline points="755.8,372.9 755.9,371.4 756.1,369.8 756.2,368.2 756.3,366.7 756.5,365.1 756.6,363.5 756.7,361.9 756.9,360.3 757.0,358.7 757.1,357.1 757.3,355.6 757.4,354.0 757.5,352.4 757.7,350.8 757.8,349.2 757.9,347.7 758.1,346.1 758.2,344.5 758.3,342.8 758.5,341.3 758.6,339.8 758.7,338.1 758.9,336.6 759.0,335.0 759.2,333.4 759.4,331.8 759.5,330.1 759.7,328.5 759.9,327.1 760.1,325.4 760.3,323.9 760.5,322.2 760.6,320.6 760.8,319.1 761.0,317.5 761.2,315.9 761.4,314.3 761.5,312.8 761.7,311.1 761.9,309.6 762.1,307.9 762.3,306.3 762.5,304.7 762.6,303.1 762.8,301.5 763.0,299.9 763.3,298.3 763.6,296.7 763.9,295.2 764.2,293.5 764.5,292.0 764.8,290.3 765.1,288.6 765.4,287.2 765.7,285.6 766.0,284.0 766.3,282.3 766.6,280.8 766.9,279.2 767.2,277.6 767.5,276.0 767.8,274.4 768.1,272.7 768.4,271.0 768.9,269.4 769.3,268.0 769.8,266.4 770.3,264.7 770.7,263.2 771.2,261.6 771.7,260.1 772.1,258.5 772.6,257.0 773.1,255.4 773.5,253.8 774.0,252.4 774.5,250.8 774.9,249.3 775.4,247.8" fill="none" stroke="#000" stroke-width="15.2" stroke-linecap="round" stroke-linejoin="round"/>
<polyline points="775.4,247.9 775.5,246.3 775.6,244.3 775.7,242.7 775.8,241.1 775.9,239.8 776.0,237.9 776.1,236.3 776.2,234.8 776.3,233.3 776.4,232.0 776.5,230.3 776.7,229.0 776.8,227.0 776.9,225.2 777.0,224.0 777.1,222.5 777.2,221.0 777.3,219.4 777.4,217.8 777.5,215.9 777.6,214.6 777.7,212.8 777.8,211.6 778.0,209.9 778.1,207.8 778.2,206.3 778.4,205.1 778.5,203.5 778.6,201.9 778.8,200.4 778.9,198.7 779.2,200.1 779.5,201.9 779.8,203.6 780.1,205.7 780.4,207.0 780.6,208.9 780.9,210.5 781.2,212.0 781.5,213.6 781.8,215.1 782.1,216.5 782.4,218.2 783.6,216.0 784.7,215.2 785.9,213.6 787.0,215.1 788.2,214.1 789.3,211.9 790.5,208.0 792.1,208.8 793.7,208.7 795.3,207.6 796.9,207.4 798.5,207.3 800.1,207.6 801.7,208.3 803.3,210.0 803.6,208.2 803.8,206.3 804.1,205.1 804.3,203.3 804.6,201.6 804.9,199.7 805.1,197.9 805.4,196.9 805.6,195.4 805.9,193.8 806.2,192.0 806.4,190.2 806.7,188.2 807.0,187.0 807.2,184.8 807.5,183.5 807.7,182.3 808.0,180.8 808.2,178.8 808.4,177.6 808.6,175.6 808.8,173.9 809.0,172.0 809.1,171.1 809.3,170.0 809.5,168.0 809.7,166.2 809.9,164.6 810.1,163.8 810.3,163.9 811.6,161.7 812.9,158.0 814.2,157.1 815.5,158.7 816.9,159.5 818.2,157.6 819.5,155.3 820.8,154.0 821.9,154.2 822.9,156.9 824.0,157.2 825.0,160.2 826.1,159.4 827.1,160.6 828.2,162.7 829.2,163.5 830.3,166.3 831.3,167.5 832.4,166.9 834.0,169.1 835.5,170.8 837.0,167.6 838.6,171.8 840.2,172.3 841.7,171.3 841.8,169.1 842.0,167.4 842.1,165.8 842.2,164.6 842.4,162.5 842.5,160.8 842.6,159.1 842.8,157.5 842.9,156.1 843.1,154.2 843.2,152.5 843.3,151.2 843.5,150.0 843.6,148.4 843.7,146.5 843.9,144.5 844.0,142.5 844.3,140.9 844.6,139.6 844.9,138.1 845.2,137.3 845.5,135.5 845.8,133.3 846.1,132.4 846.4,132.8 847.9,131.4 849.4,129.0 850.9,126.3 852.3,125.8 853.8,127.4 855.3,125.9 856.8,125.3 857.7,127.4 858.5,129.3 859.4,131.3 860.3,133.1 861.2,135.1 862.0,135.2 862.9,137.3 863.8,137.3 864.7,139.5 865.5,140.8 866.4,142.2 867.3,145.1 868.8,144.5 870.3,146.1 871.8,146.6 873.3,146.1 874.8,144.8 876.3,143.9 877.8,145.2 877.9,143.7 877.9,142.1 878.0,140.9 878.1,139.3 878.1,137.7 878.2,135.8 878.3,134.1 878.3,132.5 878.4,131.0 878.5,129.2 878.6,128.0 878.6,126.2 878.7,124.8 878.8,122.7 878.8,121.2 878.9,119.7 879.0,118.3 879.2,116.9 879.3,115.3 879.4,113.8 879.6,111.7 879.7,110.1 879.8,108.6 880.0,107.2 880.1,105.4 881.7,105.0 883.3,103.7 884.9,103.2 886.5,106.6 888.1,107.0 889.7,106.1 891.3,106.4 892.9,103.1 893.6,103.7 894.3,105.1 895.0,106.5 895.8,108.0 896.5,110.1 897.2,113.4 897.9,114.2 898.6,115.3 899.3,116.8 900.1,118.0 900.8,120.1 901.5,121.9 902.2,122.2 903.7,122.9 905.2,122.9 906.7,124.0 908.2,122.0 909.7,122.1 911.2,122.6 912.7,125.2 912.8,123.8 913.0,122.3 913.1,120.4 913.2,118.7 913.3,117.1 913.5,115.5 913.6,113.9 913.7,112.5 913.9,111.1 914.0,109.5 914.1,108.0 914.2,106.1 914.4,104.6 914.5,103.0 914.6,101.5 914.7,99.8 914.9,98.1 915.0,96.4 915.5,94.6 915.9,94.4 916.4,92.8 916.9,91.2 917.4,89.9 917.8,88.4 918.3,86.0 918.8,84.9 919.2,83.6 919.7,83.2 920.8,84.4 921.8,85.7 922.9,85.3 924.0,85.5 925.0,87.5 926.1,89.4 927.2,89.3 928.2,90.6 929.3,91.8 930.4,93.5 931.4,95.4 932.5,96.3 933.4,96.5 934.2,99.5 935.1,101.9 936.0,102.5 936.8,104.3 937.7,105.3 938.6,106.7 939.4,107.8 940.3,107.8 941.2,109.7 942.0,111.7 942.9,111.4 944.4,114.5 945.8,114.8 947.3,115.1 948.8,113.1 948.9,111.5 948.9,109.8 949.0,107.9 949.1,106.1 949.1,104.5 949.2,102.9 949.3,101.4 949.3,99.4 949.4,98.3 949.4,96.7 949.5,95.0 949.6,93.4 949.6,91.7 949.7,90.0 949.8,88.2 949.8,86.6 949.9,84.4 950.5,83.2 951.1,81.7 951.6,80.4 952.2,78.2 952.8,76.9 953.4,75.4 955.0,76.2 956.5,74.0 958.0,75.0 959.6,76.4 961.2,76.4 962.7,74.6 963.5,75.6 964.2,77.0 965.0,79.2 965.8,81.6 966.6,82.4 967.4,83.0 968.1,84.8 968.9,86.4 969.7,86.9 970.5,88.1 971.2,89.8 972.0,92.2 972.9,92.2 973.8,92.9 974.7,95.4 975.6,95.6 976.6,97.7 977.5,99.6 978.4,100.8 979.3,101.1 980.2,103.3 980.4,101.8 980.5,100.4 980.7,98.6 980.8,97.5 981.0,95.4 981.1,94.0 981.3,92.5 981.4,91.3 981.6,89.5 981.7,88.1 981.9,86.4 982.0,85.1 982.2,83.8 982.3,82.0 982.5,80.7 982.9,78.5 983.3,77.5 983.6,76.4 984.0,74.5 984.4,72.2 984.8,70.9" fill="none" stroke="#000" stroke-width="14.6" stroke-linecap="round" stroke-linejoin="round"/>
<polyline points="984.8,70.9 984.9,72.6 984.9,74.1 985.0,75.7 985.0,77.2 985.1,78.7 985.1,80.4 985.2,81.9 985.3,83.5 985.3,85.2 985.4,86.8 985.4,88.3 985.5,89.9 985.5,91.3 985.6,92.9 985.7,94.5 985.7,96.1 985.8,97.7 985.8,99.3 985.9,100.9 985.9,102.5 986.0,104.0" fill="none" stroke="#000" stroke-width="14.4" stroke-linecap="round" stroke-linejoin="round"/>
<circle cx="986.2" cy="109.0" r="7.0" fill="#000"/><circle cx="986.4" cy="116.5" r="7.0" fill="#000"/><circle cx="986.6" cy="124.0" r="7.0" fill="#000"/><circle cx="986.9" cy="131.3" r="7.0" fill="#000"/>
<polyline points="988.1,148.5 988.1,150.2 988.2,151.8 988.2,153.4 988.2,155.0 988.2,156.6 988.3,158.2 988.3,159.8 988.3,161.4 988.3,163.0 988.4,164.6 988.4,166.2 988.4,167.9 988.4,169.5 988.5,171.1 988.5,172.7 988.5,174.3 988.5,175.9 988.6,177.5 988.6,179.2 988.6,180.8 988.6,182.4 988.7,184.0 988.7,185.6 988.7,187.2 988.7,188.9 988.8,190.5 988.8,192.1 988.8,193.7 988.8,195.3 988.9,196.9 988.9,198.5 988.9,200.2 988.9,201.8 989.0,203.3 989.0,205.0 989.1,206.5 989.2,208.0 989.3,209.6 989.5,211.2 989.6,212.6 989.7,214.2 989.8,215.8 989.9,217.2 990.0,218.8 990.2,220.3 990.3,221.9 990.4,223.5 990.5,225.1 990.7,226.7 990.9,228.3 991.1,229.9 991.2,231.5 991.4,233.1 991.6,234.7 991.8,236.4 992.0,238.0" fill="none" stroke="#000" stroke-width="14.4" stroke-linecap="round" stroke-linejoin="round"/>
<polyline points="993.5,233.9 994.8,236.8 996.0,239.0 997.2,239.7 998.5,244.0 1000.2,241.8 1001.8,244.1 1003.5,241.1 1005.1,242.6 1006.8,237.1 1008.3,238.3 1009.8,237.9 1011.2,236.6 1012.7,235.3 1014.2,234.9 1015.6,233.5 1017.1,232.0 1018.6,231.1 1020.2,230.7 1021.8,230.5 1023.3,229.8 1024.9,230.4 1026.5,233.0 1028.0,231.7 1029.5,230.1 1030.9,233.2 1032.4,233.7 1033.9,233.3 1035.4,232.6 1036.9,230.3 1038.4,228.5 1039.8,230.0 1041.3,226.8 1042.8,225.7 1044.4,226.4 1045.9,226.6 1047.5,225.0 1049.0,227.1 1050.6,225.3 1052.2,226.4 1053.7,227.7 1055.3,227.3 1056.8,227.1 1058.4,222.2 1059.9,219.1 1061.5,218.9 1063.0,221.5 1064.6,225.5 1066.2,220.9 1067.7,222.1 1069.2,219.8 1070.8,218.9 1072.3,219.4 1073.9,222.0 1075.4,222.3 1077.0,224.7 1078.5,220.7 1080.1,223.0 1081.7,224.1 1083.4,222.5 1085.0,222.4 1086.6,219.7 1088.2,216.7 1089.9,216.6 1091.5,215.8 1093.1,222.3 1094.8,219.8 1096.4,221.1 1097.7,221.4 1099.1,221.6 1100.4,223.0 1101.7,220.9 1103.0,223.7 1104.4,224.5 1105.7,221.2 1107.0,224.2 1108.4,226.1 1109.7,227.2 1111.0,229.8 1112.3,228.4 1113.7,229.5 1115.0,230.8 1116.3,226.9 1117.7,228.8 1119.0,223.8 1120.3,221.4 1121.6,223.0 1123.0,220.2 1124.3,220.6 1125.5,218.1 1126.6,218.1 1127.8,216.1 1128.9,217.0 1130.1,214.1 1131.3,215.1 1132.4,214.1 1133.6,214.2" fill="none" stroke="#000" stroke-width="18.6" stroke-linecap="round" stroke-linejoin="round"/>
<polyline points="1133.6,214.3 1135.1,213.4 1136.5,213.0 1138.0,209.5 1139.4,208.0 1140.9,207.3 1142.3,206.6 1143.8,206.1 1145.2,207.6 1146.7,204.4 1148.2,203.7 1149.6,203.0 1151.1,202.2 1152.5,203.2 1154.0,202.9 1155.4,201.0 1156.9,199.1 1158.4,202.1 1160.0,200.4 1161.5,202.0 1163.1,202.5 1164.6,197.5 1166.2,197.1 1167.7,197.9 1169.3,199.4 1170.8,201.0 1172.4,201.8 1173.9,202.5 1175.5,199.8 1177.0,198.5 1178.6,199.7 1180.1,197.7 1181.7,199.1 1183.2,194.1 1184.8,195.7 1186.4,194.5 1187.9,190.7 1189.5,193.0 1191.0,193.6 1192.5,193.3 1194.0,190.5 1195.5,190.3 1197.0,194.5 1198.5,191.5 1200.0,188.7 1201.5,188.0 1203.0,187.3 1204.5,186.5 1206.0,186.4 1207.4,185.1 1208.9,184.3 1210.4,187.1 1211.9,183.3 1213.4,188.0 1214.9,185.3 1216.5,182.5 1218.0,184.9 1219.6,185.5 1221.1,182.3 1222.7,184.2 1224.2,179.5 1225.8,179.2 1227.3,182.6 1228.9,181.6 1230.4,178.6 1232.0,180.8 1233.5,182.7 1235.0,181.4 1236.5,176.7 1238.0,177.0 1239.5,178.6 1241.0,180.0 1242.5,181.6 1243.9,179.8 1245.4,177.4 1246.9,176.8 1248.4,178.9 1249.9,175.3 1251.4,178.0 1253.0,171.7 1254.6,174.3 1256.2,173.0 1257.8,174.7 1259.4,176.1 1261.0,172.6 1262.6,173.1 1264.1,174.0 1265.7,175.2 1267.3,172.4 1268.9,170.6 1270.5,169.8 1272.1,175.7 1273.7,173.9 1275.1,172.4 1276.5,168.7 1277.9,171.3 1279.3,169.4 1280.7,172.0 1282.1,172.0 1283.5,170.0 1284.9,170.3 1286.5,166.5 1288.0,166.1 1289.6,165.3 1291.1,163.6 1292.7,165.0 1294.3,165.5 1295.8,169.3 1297.4,163.2 1298.9,163.1 1300.5,163.0 1302.1,162.8 1303.6,165.1 1305.2,166.2 1306.8,165.9 1308.3,164.5 1309.9,165.8 1311.5,166.1 1313.1,161.3 1314.6,162.0 1316.2,160.9 1317.8,160.3 1319.4,160.7 1321.0,161.3 1322.5,161.4 1324.1,159.1 1325.7,159.0 1327.3,157.0 1328.9,159.1 1330.4,161.0 1332.0,163.5 1333.5,163.5 1335.1,161.0 1336.6,159.5 1338.2,157.6 1339.7,159.3 1341.3,163.5 1342.8,163.5 1344.4,157.1 1345.9,156.3 1347.5,157.2 1348.6,157.5 1349.7,157.1 1350.8,156.9 1352.0,158.5 1353.1,155.1 1354.2,152.5 1355.3,155.3 1356.4,154.4 1358.0,151.3 1359.6,147.9 1361.2,147.8 1362.8,147.8 1364.4,147.7 1366.0,148.7 1367.6,152.0 1369.1,151.2 1370.7,149.5 1372.3,148.4 1373.9,153.6 1375.5,148.3 1377.1,149.7 1378.7,150.1 1380.4,151.6 1382.0,150.2 1383.7,151.5 1385.4,152.8 1387.1,151.5 1388.8,150.0 1390.4,149.8 1392.1,148.1 1393.7,148.1 1395.3,147.6 1396.8,148.1 1398.4,150.4 1400.0,150.6 1401.4,149.0 1402.9,150.2 1404.3,150.4 1405.7,151.7 1407.1,151.0 1408.6,151.4 1410.0,150.4 1410.3,151.6 1410.7,153.9 1411.0,156.1 1411.4,157.7 1411.7,159.1 1412.0,160.5 1412.4,161.5 1412.7,162.1 1413.1,164.4 1413.4,166.2 1413.9,167.4 1414.3,168.4 1414.8,171.4 1415.3,171.4 1415.8,174.9 1416.2,176.6 1416.7,180.5 1418.2,179.9 1419.7,179.8 1421.2,179.1 1422.6,180.4 1424.1,180.7 1425.6,180.0 1427.0,183.6 1428.4,182.0 1429.8,181.9 1431.2,184.3 1432.6,183.7 1434.0,183.7 1435.4,185.7 1436.8,185.5 1438.4,183.6 1439.9,185.3 1441.5,186.1 1443.1,190.9 1444.7,187.7 1446.2,190.6 1447.8,188.7 1449.4,188.7 1450.9,189.0 1452.5,190.8" fill="none" stroke="#000" stroke-width="14.8" stroke-linecap="round" stroke-linejoin="round"/>
</g>
<g id="ticklabels" font-size="61">
<text x="318.5" y="942.6" text-anchor="middle">0</text>
<text x="581.9" y="942.6" text-anchor="middle">20</text>
<text x="845.3" y="942.6" text-anchor="middle">40</text>
<text x="1108.7" y="942.6" text-anchor="middle">60</text>
<text x="1372.1" y="942.6" text-anchor="middle">80</text>
</g>
<g transform="translate(75.2,601) rotate(-90)">
<text x="-1" y="0" font-size="53">θ</text>
<text x="67.5" y="0" font-size="61" textLength="172.5" lengthAdjust="spacingAndGlyphs">[ deg ]</text>
</g>
<path d="M71.3 555.9H103.6V561.9H71.3Z M71.3 561.5H77.6L85.4 567.4V570.4H80.6L71.3 563.6Z" fill="#000"/>
<g id="annot">
<text class="b" x="379.6" y="349.9" font-size="43" textLength="161.4" lengthAdjust="spacingAndGlyphs">capture</text>
<text class="b" x="346.2" y="399.4" font-size="43.5" textLength="100.2" lengthAdjust="spacingAndGlyphs">Anti-</text>
<text class="b" x="448.9" y="399.4" font-size="43.5" textLength="134.7" lengthAdjust="spacingAndGlyphs">ERBB2</text>
<text class="b" x="375.0" y="443.3" font-size="43.5" textLength="183.8" lengthAdjust="spacingAndGlyphs">injection</text>
<text class="b" x="510.5" y="176.5" font-size="46" textLength="161.5" lengthAdjust="spacingAndGlyphs">SK-BR 3</text>
<text class="b" x="498.7" y="219.2" font-size="43.5" textLength="185.0" lengthAdjust="spacingAndGlyphs">injection</text>
<text class="b" x="1186.0" y="349.9" font-size="43.5" textLength="200.5" lengthAdjust="spacingAndGlyphs">detection</text>
<text class="b" x="1164.4" y="403.1" font-size="44" textLength="104.0" lengthAdjust="spacingAndGlyphs">Anti-</text>
<text class="b" x="1268.0" y="403.1" font-size="44" textLength="135.3" lengthAdjust="spacingAndGlyphs">ERBB2</text>
<text class="b" x="1192.3" y="452.1" font-size="43.5" textLength="184.7" lengthAdjust="spacingAndGlyphs">injection</text>
<text class="b" x="1176.2" y="744.5" font-size="56" textLength="94.9" lengthAdjust="spacingAndGlyphs">PtG</text>
<text class="b" x="1286.3" y="744.5" font-size="56" textLength="104.8" lengthAdjust="spacingAndGlyphs">side</text>
<text class="b" x="1179.3" y="815.5" font-size="56" textLength="102.3" lengthAdjust="spacingAndGlyphs">BSA</text>
<text class="b" x="1297.0" y="815.5" font-size="56" textLength="104.9" lengthAdjust="spacingAndGlyphs">side</text>
<text x="752.4" y="1021.0" font-size="61" textLength="201.8" lengthAdjust="spacingAndGlyphs">t [ min ]</text>
<text x="136.5" y="113.3" font-size="61" textLength="154.2" lengthAdjust="spacingAndGlyphs">70.50</text>
<text x="136.5" y="371.5" font-size="61" textLength="154.2" lengthAdjust="spacingAndGlyphs">70.46</text>
<text x="136.5" y="629.8" font-size="61" textLength="154.2" lengthAdjust="spacingAndGlyphs">70.42</text>
<text x="136.5" y="888.0" font-size="61" textLength="154.2" lengthAdjust="spacingAndGlyphs">70.38</text>
</g>
<g id="legend">
<circle cx="1138" cy="726.8" r="16.7" fill="#000"/>
<circle cx="1139" cy="796.7" r="16.7" fill="#808080"/>
</g>
</svg></body></html>
